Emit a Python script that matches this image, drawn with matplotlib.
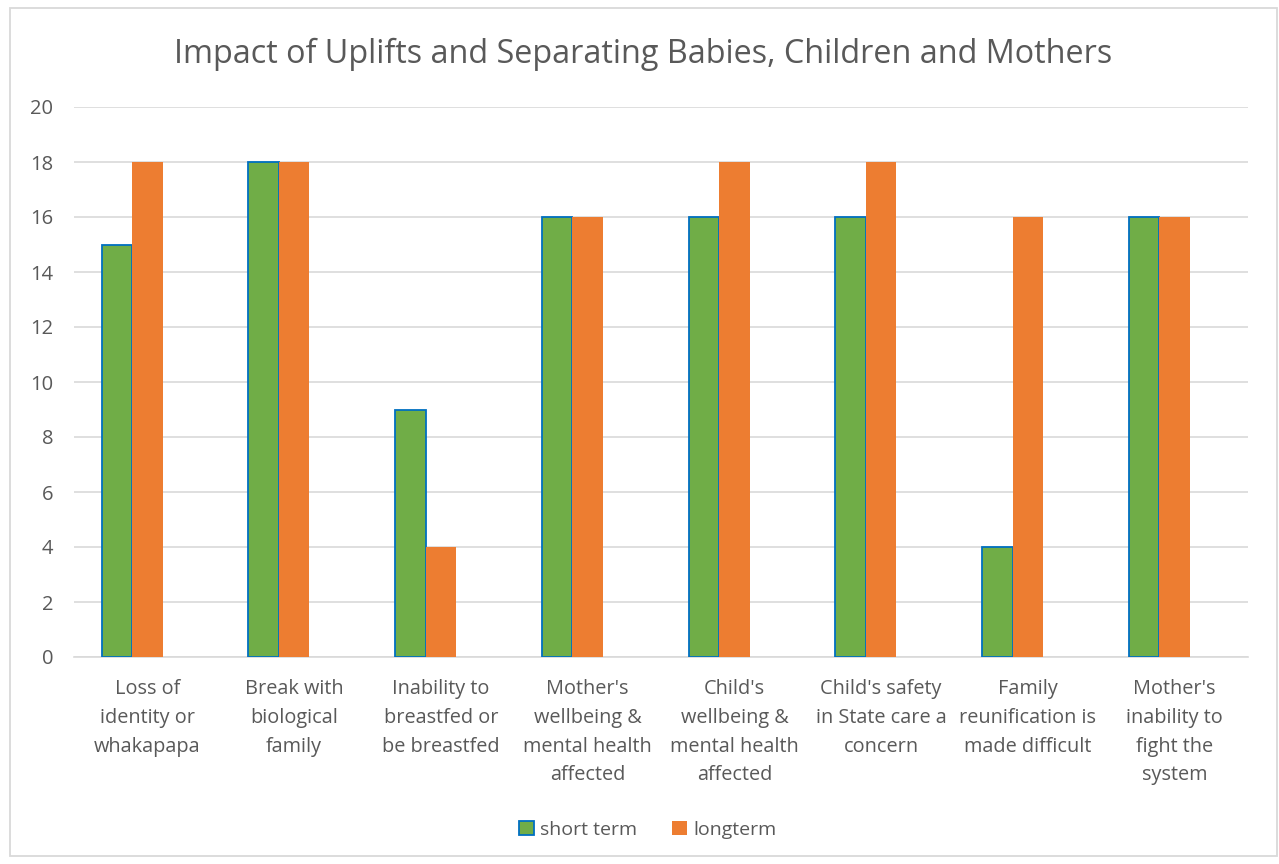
import matplotlib
matplotlib.use("Agg")
import matplotlib.pyplot as plt
import numpy as np
from matplotlib.patches import Rectangle

categories = [
    "Loss of\nidentity or\nwhakapapa",
    "Break with\nbiological\nfamily",
    "Inability to\nbreastfed or\nbe breastfed",
    "Mother's\nwellbeing &\nmental health\naffected",
    "Child's\nwellbeing &\nmental health\naffected",
    "Child's safety\nin State care a\nconcern",
    "Family\nreunification is\nmade difficult",
    "Mother's\ninability to\nfight the\nsystem",
]
short_term = [15, 18, 9, 16, 16, 16, 4, 16]
long_term = [18, 18, 4, 16, 18, 18, 16, 16]
yticks = [0, 2, 4, 6, 8, 10, 12, 14, 16, 18, 20]

W, H = 1279, 864
fig = plt.figure(figsize=(W / 100, H / 100), dpi=100)
fam = ["Open Sans", "DejaVu Sans"]
txt = "#595959"
grid = "#D9D9D9"

# outer border
fig.patches.append(Rectangle((10 / W, 1 - 856 / H), (1277 - 10) / W, (856 - 8) / H,
                             transform=fig.transFigure, fill=False,
                             edgecolor=grid, linewidth=1.3))

ax = fig.add_axes([74 / W, 1 - 657 / H, (1248 - 74) / W, (657 - 107) / H])
x = np.arange(len(categories))
w = 0.208
ax.bar(x - w, short_term, w, color="#70AD47", edgecolor="#0070C0",
       linewidth=1.3, label="short term", zorder=3)
ax.bar(x, long_term, w, color="#ED7D31", edgecolor="#ED7D31",
       linewidth=0, label="longterm", zorder=3)

ax.set_xlim(-0.5, len(categories) - 0.5)
ax.set_ylim(0, 20)
ax.set_yticks(yticks)
ax.set_yticklabels([str(v) for v in yticks], fontsize=14.5, color=txt, family=fam)
ax.set_xticks(x)
ax.set_xticklabels(categories, fontsize=14.3, color=txt, family=fam,
                   linespacing=1.58, va="top")
ax.tick_params(axis="both", length=0)
ax.tick_params(axis="x", pad=16)
ax.tick_params(axis="y", pad=15)
ax.grid(axis="y", color=grid, linewidth=1.2, zorder=0)
for s in ["top", "right", "left"]:
    ax.spines[s].set_visible(False)
ax.spines["bottom"].set_color(grid)
ax.spines["bottom"].set_linewidth(1.2)
ax.spines["bottom"].set_zorder(1)

fig.text(643 / W, 1 - 54 / H, "Impact of Uplifts and Separating Babies, Children and Mothers",
         ha="center", va="center", fontsize=23.3, color=txt, family=fam)

leg = fig.legend(loc="center", bbox_to_anchor=(648 / W, 1 - 830 / H), ncol=2,
                 frameon=False, handlelength=0.75, handleheight=0.75,
                 handletextpad=0.35, columnspacing=1.8,
                 prop={"family": fam, "size": 14})
for t in leg.get_texts():
    t.set_color(txt)

fig.savefig("out.png", dpi=100, facecolor="white")
